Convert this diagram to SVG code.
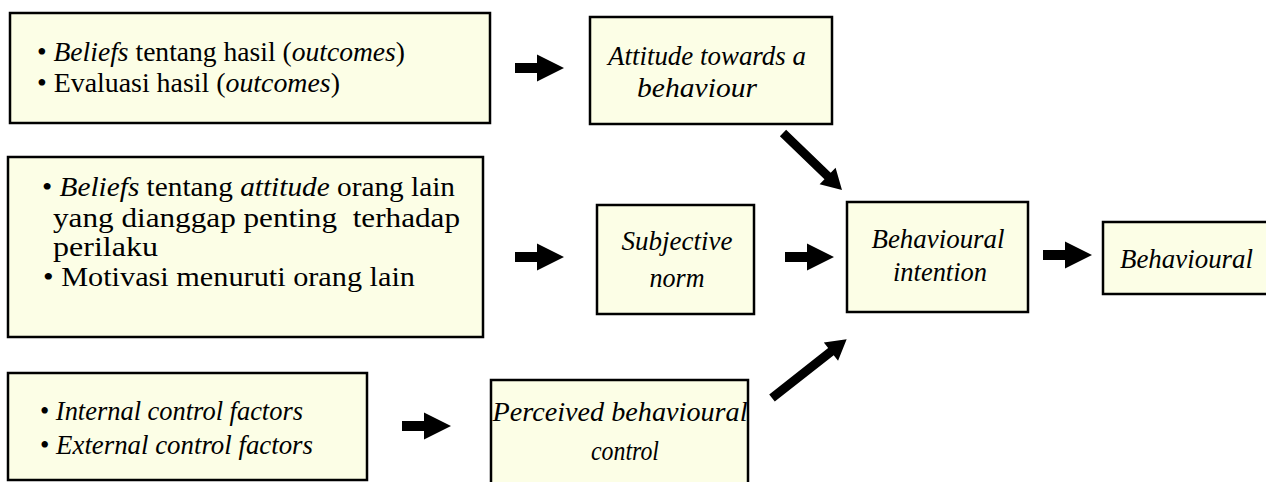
<svg xmlns="http://www.w3.org/2000/svg" width="1266" height="482" viewBox="0 0 1266 482" font-family="Liberation Serif, serif">
<style>
.box{fill:#FCFEE6;stroke:#000;stroke-width:2.5}
.t{font-size:27px;fill:#000}
.i{font-style:italic}
.c{text-anchor:middle}
.arr{fill:#000}
</style>
<rect width="1266" height="482" fill="#fff"/>
<g id="n1">
<rect class="box" x="10" y="13" width="480" height="110"/>
<text class="t" font-family="Liberation Serif" x="37" y="61" textLength="368" lengthAdjust="spacingAndGlyphs">• <tspan class="i">Beliefs</tspan> tentang hasil (<tspan class="i">outcomes</tspan>)</text>
<text class="t" font-family="Liberation Serif" x="37" y="92" textLength="303" lengthAdjust="spacingAndGlyphs">• Evaluasi hasil (<tspan class="i">outcomes</tspan>)</text>
</g>
<g id="n2">
<rect class="box" x="8" y="157" width="475" height="180"/>
<text class="t" font-family="Liberation Serif" x="42" y="196" textLength="413" lengthAdjust="spacingAndGlyphs">• <tspan class="i">Beliefs</tspan> tentang <tspan class="i">attitude</tspan> orang lain</text>
<text class="t" font-family="Liberation Serif" x="53" y="227" textLength="407" lengthAdjust="spacingAndGlyphs" xml:space="preserve">yang dianggap penting  terhadap</text>
<text class="t" font-family="Liberation Serif" x="53" y="256" textLength="105" lengthAdjust="spacingAndGlyphs">perilaku</text>
<text class="t" font-family="Liberation Serif" x="43" y="286" textLength="372" lengthAdjust="spacingAndGlyphs">• Motivasi menuruti orang lain</text>
</g>
<g id="n3">
<rect class="box" x="8" y="373" width="359" height="107"/>
<text class="t" font-family="Liberation Serif" x="40" y="420" textLength="263" lengthAdjust="spacingAndGlyphs">• <tspan class="i">Internal control factors</tspan></text>
<text class="t" font-family="Liberation Serif" x="40" y="454" textLength="273" lengthAdjust="spacingAndGlyphs">• <tspan class="i">External control factors</tspan></text>
</g>
<g id="n4">
<rect class="box" x="590" y="17" width="242" height="107"/>
<text class="t i c" font-family="Liberation Serif" x="707" y="65" textLength="198" lengthAdjust="spacingAndGlyphs">Attitude towards a</text>
<text class="t i c" font-family="Liberation Serif" x="697" y="97" textLength="120" lengthAdjust="spacingAndGlyphs">behaviour</text>
</g>
<g id="n5">
<rect class="box" x="597" y="205" width="157" height="109"/>
<text class="t i c" font-family="Liberation Serif" x="677" y="250" textLength="111" lengthAdjust="spacingAndGlyphs">Subjective</text>
<text class="t i c" font-family="Liberation Serif" x="677" y="287" textLength="55" lengthAdjust="spacingAndGlyphs">norm</text>
</g>
<g id="n6">
<rect class="box" x="847" y="202" width="181" height="110"/>
<text class="t i c" font-family="Liberation Serif" x="938" y="248" textLength="133" lengthAdjust="spacingAndGlyphs">Behavioural</text>
<text class="t i c" font-family="Liberation Serif" x="940" y="281" textLength="94" lengthAdjust="spacingAndGlyphs">intention</text>
</g>
<g id="n7">
<rect class="box" x="1103" y="222" width="180" height="72"/>
<text class="t i" font-family="Liberation Serif" x="1120" y="268" textLength="133" lengthAdjust="spacingAndGlyphs">Behavioural</text>
</g>
<g id="n8">
<rect class="box" x="491" y="380" width="257" height="115"/>
<text class="t i c" font-family="Liberation Serif" x="620" y="421" textLength="255" lengthAdjust="spacingAndGlyphs">Perceived behavioural</text>
<text class="t i c" font-family="Liberation Serif" x="625" y="460" textLength="68" lengthAdjust="spacingAndGlyphs">control</text>
</g>
<g id="connectors" class="arr">
<polygon points="515,63 537,63 537,54.5 564,68 537,81.5 537,73 515,73"/>
<polygon points="515,252 537,252 537,243.5 564,257 537,270.5 537,262 515,262"/>
<polygon points="785,252 807,252 807,243.5 834,257 807,270.5 807,262 785,262"/>
<polygon points="1043,250 1065,250 1065,241.5 1092,255 1065,268.5 1065,260 1043,260"/>
<polygon points="402,421 424,421 424,412.5 451,426 424,439.5 424,431 402,431"/>
<path transform="translate(783,133) rotate(44)" d="M0,-4.5 L62,-4.5 L62,-11.5 L82,0 L62,11.5 L62,4.5 L0,4.5 Z"/>
<path transform="translate(772,398) rotate(-38.2)" d="M0,-4.5 L75,-4.5 L75,-11.5 L95,0 L75,11.5 L75,4.5 L0,4.5 Z"/>
</g>
</svg>
